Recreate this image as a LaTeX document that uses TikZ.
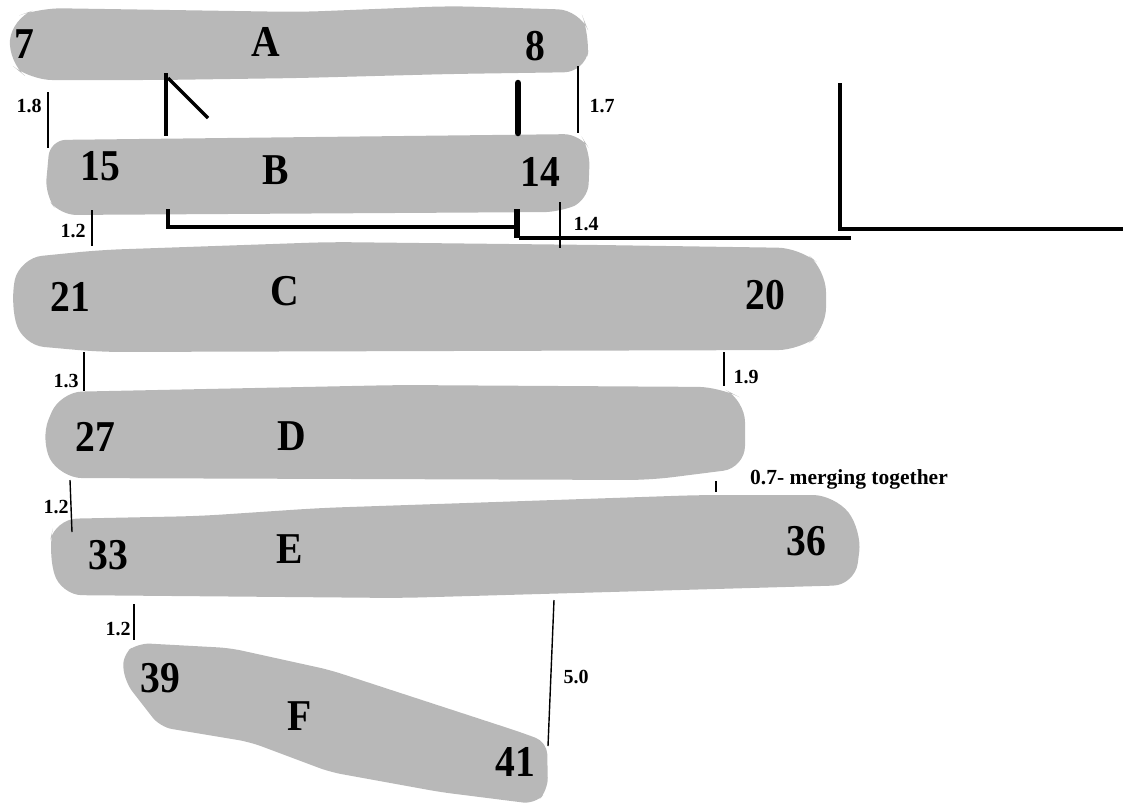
\documentclass[tikz,border=0pt]{standalone}
\usepackage{fontspec}
\setmainfont{Liberation Serif}
\newfontfamily\labfont[FakeStretch=0.9]{Liberation Serif}
\begin{document}
\begin{tikzpicture}[x=1pt,y=-1pt,
  blob/.style={fill=blobgray,draw=none,rounded corners=22pt},
  big/.style={font=\labfont\fontsize{44}{46}\selectfont\bfseries,inner sep=0pt},
  small/.style={font=\fontsize{20}{22}\selectfont\bfseries,inner sep=0pt},
  tick/.style={line width=1.4pt},
  thick bar/.style={line width=4.5pt},
]
\definecolor{blobgray}{RGB}{184,184,184}
\useasboundingbox (0,0) rectangle (1123,807);
% blobs
\fill[blob] (12,18)--(40,8)--(300,12)--(450,6)--(580,10)--(590,35)--(586,72)--(450,74)--(300,78)--(160,80)--(30,80)--(8,62)--cycle;
\fill[blob,rounded corners=16pt] (50,140)--(580,134)--(590,150)--(588,200)--(560,212)--(60,215)--(45,195)--cycle;
\fill[blob] (20,258)--(100,250)--(330,242)--(600,245)--(800,248)--(826,270)--(826,330)--(800,350)--(100,352)--(22,345)--(10,300)--cycle;
\fill[blob] (60,392)--(400,385)--(720,387)--(745,400)--(745,468)--(650,480)--(60,478)--(40,440)--cycle;
\fill[blob] (55,519)--(200,516)--(320,508)--(700,495)--(835,495)--(862,530)--(855,585)--(400,598)--(60,595)--(48,550)--cycle;
\fill[blob,rounded corners=12pt] (122,655)--(138,643)--(230,648)--(330,670)--(520,732)--(547,742)--(548,790)--(535,804)--(440,792)--(330,772)--(250,742)--(160,727)--(125,682)--cycle;
% big labels
\node[big] (n7) at (24,44) {7};
\node[big] (lA) at (266,42) {A};
\node[big] (n8) at (535,46) {8};
\node[big] (n15) at (100,166) {15};
\node[big] (lB) at (276,170) {B};
\node[big] (n14) at (540,172) {14};
\node[big] (n21) at (70,297) {21};
\node[big] (lC) at (285,291) {C};
\node[big] (n20) at (765,295) {20};
\node[big] (n27) at (95,437) {27};
\node[big] (lD) at (292,436) {D};
\node[big] (n33) at (108,555) {33};
\node[big] (lE) at (290,549) {E};
\node[big] (n36) at (806,541) {36};
\node[big] (n39) at (160,678) {39};
\node[big] (lF) at (300,716) {F};
\node[big] (n41) at (515,762) {41};
% small labels
\node[small] (d18) at (29,106) {1.8};
\node[small] (d17) at (602,106) {1.7};
\node[small] (d12a) at (73,231) {1.2};
\node[small] (d14) at (586,224) {1.4};
\node[small] (d13) at (66,381) {1.3};
\node[small] (d19) at (746,377) {1.9};
\node[small] (d12b) at (56,507) {1.2};
\node[small,anchor=west,font=\fontsize{21.5}{23}\selectfont\bfseries] (d07) at (750,479) {0.7- merging together};
\node[small] (d12c) at (118,629) {1.2};
\node[small] (d50) at (576,677) {5.0};
% dimension ticks
\coordinate (t18a) at (48,92); \coordinate (t18b) at (48,148);
\coordinate (t17a) at (578,66); \coordinate (t17b) at (578,133);
\coordinate (t12a) at (92,210); \coordinate (t12b) at (92,246);
\coordinate (t14a) at (560,202); \coordinate (t14b) at (560,248);
\coordinate (t13a) at (84,352); \coordinate (t13b) at (84,391);
\coordinate (t19a) at (724,352); \coordinate (t19b) at (724,386);
\coordinate (t12c) at (70,480); \coordinate (t12d) at (72,532);
\coordinate (t07a) at (716,481); \coordinate (t07b) at (716,492);
\coordinate (t12e) at (134,604); \coordinate (t12f) at (134,640);
\coordinate (t50a) at (554,600); \coordinate (t50b) at (548,746);
\foreach \a/\b in {t18a/t18b,t17a/t17b,t12a/t12b,t14a/t14b,t13a/t13b,t19a/t19b,t12c/t12d,t07a/t07b,t12e/t12f,t50a/t50b}
  \draw[tick] (\a) -- (\b);
% thick lines
\coordinate (p1) at (166,73); \coordinate (p2) at (166,136);
\coordinate (q1) at (168,78); \coordinate (q2) at (208,118);
\coordinate (r1) at (518,83); \coordinate (r2) at (518,133);
\coordinate (s1) at (168,209); \coordinate (s2) at (168,227);
\coordinate (s3) at (517,227); \coordinate (s4) at (517,209);
\coordinate (s5) at (519,238); \coordinate (s6) at (851,238);
\coordinate (u1) at (840,83); \coordinate (u2) at (840,229); \coordinate (u3) at (1123,229);
\draw[line width=3.5pt] (p1) -- (p2);
\draw[line width=3.5pt] (q1) -- (q2);
\draw[line width=6.5pt,line cap=round] (r1) -- (r2);
\draw[thick bar] (s1) -- (s2) -- (s3);
\draw[line width=6pt] (s4) -- (517,238);
\draw[thick bar] (s5) -- (s6);
\draw[thick bar] (u1) -- (u2) -- (u3);
\end{tikzpicture}
\end{document}
